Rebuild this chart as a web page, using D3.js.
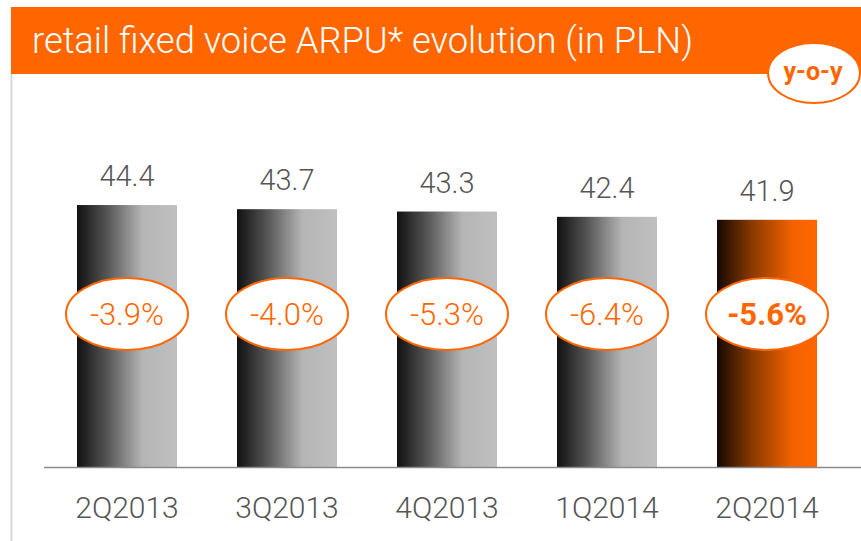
<!DOCTYPE html>
<html>
<head>
<meta charset="utf-8">
<script src="https://cdn.jsdelivr.net/npm/d3@7"></script>
<style>
  html, body { margin: 0; padding: 0; background: #fff; }
  svg { display: block; }
  text { font-family: Roboto, "Liberation Sans", Arial, sans-serif; font-weight: 300; }
</style>
</head>
<body>
<svg id="chart" width="861" height="541"></svg>
<script>
// ---- data ----
const title = "retail fixed voice ARPU* evolution (in PLN)";
const badgeLabel = "y-o-y";
const categories = ["2Q2013", "3Q2013", "4Q2013", "1Q2014", "2Q2014"];
const arpuValues = [44.4, 43.7, 43.3, 42.4, 41.9];
const valueLabels = ["44.4", "43.7", "43.3", "42.4", "41.9"];
const yoyLabels = ["-3.9%", "-4.0%", "-5.3%", "-6.4%", "-5.6%"];
const highlighted = [false, false, false, false, true];

const W = 861, H = 541;
const ORANGE = "#ff6600";
const svg = d3.select("#chart");

// gradients
const defs = svg.append("defs");
const gGray = defs.append("linearGradient").attr("id", "gradGray")
  .attr("x1", "0%").attr("x2", "100%").attr("y1", "0%").attr("y2", "0%");
gGray.append("stop").attr("offset", "0%").attr("stop-color", "#111111");
gGray.append("stop").attr("offset", "30%").attr("stop-color", "#555555");
gGray.append("stop").attr("offset", "65%").attr("stop-color", "#b4b4b4");
gGray.append("stop").attr("offset", "100%").attr("stop-color", "#c0c0c0");
const gOr = defs.append("linearGradient").attr("id", "gradOrange")
  .attr("x1", "0%").attr("x2", "100%").attr("y1", "0%").attr("y2", "0%");
gOr.append("stop").attr("offset", "0%").attr("stop-color", "#140800");
gOr.append("stop").attr("offset", "35%").attr("stop-color", "#8a3a00");
gOr.append("stop").attr("offset", "75%").attr("stop-color", "#f26200");
gOr.append("stop").attr("offset", "100%").attr("stop-color", "#ff6600");

// left border line
svg.append("line")
  .attr("x1", 11.5).attr("x2", 11.5).attr("y1", 74).attr("y2", H)
  .attr("stroke", "#d9d9d9").attr("stroke-width", 2);

// header
svg.append("rect").attr("x", 11).attr("y", 7).attr("width", W - 11).attr("height", 67)
  .attr("fill", ORANGE);
svg.append("text")
  .attr("x", 32).attr("y", 53)
  .attr("fill", "#fff")
  .attr("font-size", 36)
  .attr("textLength", 661)
  .attr("lengthAdjust", "spacingAndGlyphs")
  .text(title);

// badge
svg.append("ellipse").attr("cx", 814).attr("cy", 73).attr("rx", 46).attr("ry", 30)
  .attr("fill", "#fff").attr("stroke", ORANGE).attr("stroke-width", 2);
svg.append("text")
  .attr("x", 813).attr("y", 80)
  .attr("text-anchor", "middle")
  .attr("fill", ORANGE).style("font-weight", "bold").attr("font-size", 25)
  .text(badgeLabel);

// scales
const x = d3.scaleBand().domain(categories).range([47, 847])
  .paddingInner(0.375).paddingOuter(0.1875);
const y = d3.scaleLinear().domain([0, 50]).range([467, 467 - 295]);

// bars
svg.append("g").selectAll("rect").data(categories).join("rect")
  .attr("x", d => x(d))
  .attr("y", (d, i) => y(arpuValues[i]))
  .attr("width", x.bandwidth())
  .attr("height", (d, i) => y(0) - y(arpuValues[i]))
  .attr("fill", (d, i) => highlighted[i] ? "url(#gradOrange)" : "url(#gradGray)");

// axis
const axis = svg.append("g").attr("transform", `translate(0,${y(0)})`)
  .call(d3.axisBottom(x).tickSize(0).tickPadding(40));
axis.select(".domain").attr("d", "M44,0.5H861").attr("stroke", "#8a8a8a").attr("stroke-width", 1.5);
axis.selectAll(".tick text")
  .attr("font-size", 30).attr("fill", "#555555")
  .attr("font-family", null)
  .attr("dy", "0.35em");

// value labels
svg.append("g").selectAll("text").data(categories).join("text")
  .attr("x", d => x(d) + x.bandwidth() / 2)
  .attr("y", (d, i) => y(arpuValues[i]) - 19)
  .attr("text-anchor", "middle")
  .attr("font-size", 29).attr("fill", "#555555")
  .text((d, i) => valueLabels[i]);

// yoy ellipses
const yo = svg.append("g").selectAll("g").data(categories).join("g")
  .attr("transform", d => `translate(${x(d) + x.bandwidth() / 2},314)`);
yo.append("ellipse").attr("rx", 61).attr("ry", 36)
  .attr("fill", "#fff").attr("stroke", ORANGE).attr("stroke-width", 2);
yo.append("text")
  .attr("y", 11)
  .attr("text-anchor", "middle")
  .attr("font-size", 31).attr("fill", ORANGE)
  .style("font-weight", (d, i) => highlighted[i] ? "bold" : "300")
  .text((d, i) => yoyLabels[i]);
</script>
</body>
</html>
